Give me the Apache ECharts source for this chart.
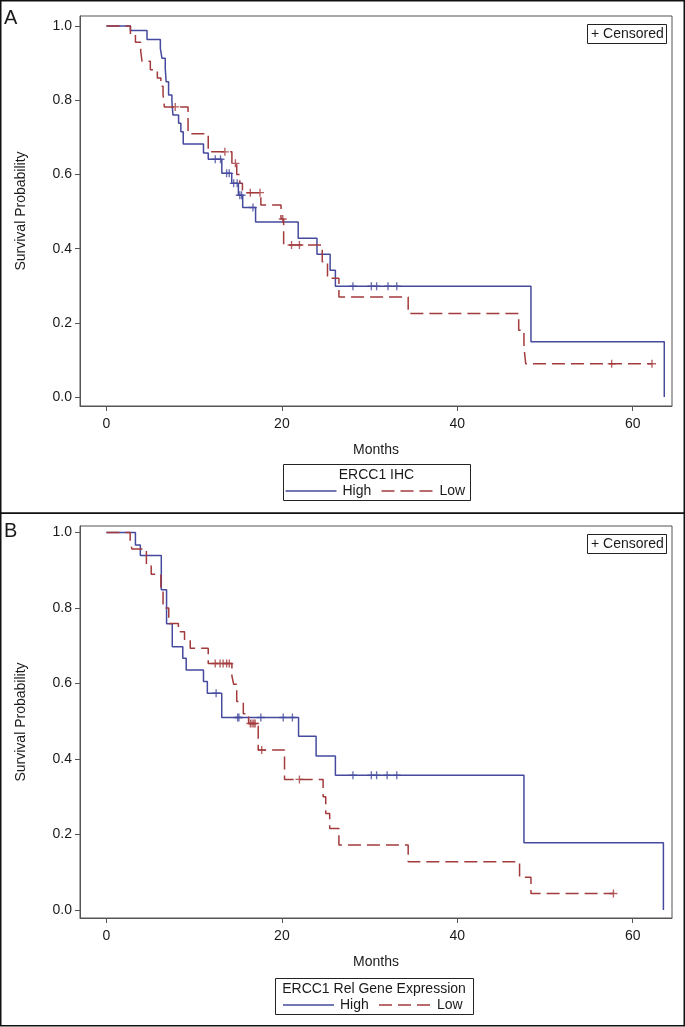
<!DOCTYPE html>
<html>
<head>
<meta charset="utf-8">
<script src="https://cdn.jsdelivr.net/npm/echarts@6/dist/echarts.min.js"></script>
<style>
html,body{margin:0;padding:0;background:#fff;}
#c{width:685px;height:1027px;}
</style>
</head>
<body>
<div id="c"></div>
<script>
// ---------- DATA ----------
const monthTicks = [0, 20, 40, 60];
const survTicks = [0, 0.2, 0.4, 0.6, 0.8, 1.0];
const groupNames = ['High', 'Low'];
const panelLabels = ['A', 'B'];
const legendTitles = ['ERCC1 IHC', 'ERCC1 Rel Gene Expression'];
const censorLabel = '+ Censored';

// Panel A – ERCC1 IHC, High: [month, survival] after each event
const aHighSteps = [
  [0, 1.0], [2.73, 0.988], [4.62, 0.964], [6.14, 0.94], [6.33, 0.913], [6.7, 0.886],
  [6.8, 0.85], [7.08, 0.814], [7.46, 0.796], [7.58, 0.76], [8.22, 0.738], [8.48, 0.715],
  [8.75, 0.682], [11.06, 0.658], [11.6, 0.641], [13.15, 0.603], [14.28, 0.576],
  [15.04, 0.544], [15.53, 0.511], [17.0, 0.472], [21.86, 0.428], [24.0, 0.385],
  [25.5, 0.342], [26.1, 0.299], [48.4, 0.149], [63.6, 0.0]
];
const aHighCensor = [
  [12.4, 0.641], [13.0, 0.641], [13.7, 0.603], [14.0, 0.603], [14.5, 0.576], [14.9, 0.576],
  [15.2, 0.544], [15.4, 0.544], [16.7, 0.511], [28.1, 0.299], [30.2, 0.299], [30.8, 0.299],
  [32.1, 0.299], [33.1, 0.299]
];
// Panel A – Low
const aLowSteps = [
  [0, 1.0], [2.73, 0.978], [3.3, 0.956], [3.9, 0.933], [4.05, 0.905], [5.0, 0.882],
  [5.8, 0.86], [6.2, 0.838], [6.45, 0.815], [6.6, 0.782], [9.3, 0.71], [11.6, 0.661],
  [14.3, 0.63], [14.85, 0.6], [15.2, 0.576], [15.5, 0.551], [17.6, 0.518], [19.9, 0.48],
  [20.2, 0.41], [24.6, 0.365], [25.2, 0.32], [26.5, 0.27], [34.4, 0.225], [47.0, 0.18],
  [47.6, 0.135], [47.8, 0.09], [62.2, 0.09]
];
const aLowCensor = [
  [7.84, 0.782], [13.5, 0.661], [14.7, 0.63], [16.4, 0.551], [17.5, 0.551], [20.1, 0.48],
  [21.1, 0.41], [22.0, 0.41], [57.6, 0.09], [62.2, 0.09]
];
// Panel B – ERCC1 Rel Gene Expression, High
const bHighSteps = [
  [0, 1.0], [3.3, 0.967], [3.86, 0.939], [6.25, 0.848], [6.85, 0.758], [7.5, 0.697],
  [8.7, 0.667], [9.09, 0.636], [11.06, 0.605], [11.5, 0.574], [13.14, 0.51],
  [21.9, 0.46], [23.9, 0.408], [26.1, 0.357], [47.6, 0.178], [63.5, 0.0]
];
const bHighCensor = [
  [12.5, 0.574], [14.95, 0.51], [15.1, 0.51], [17.6, 0.51], [20.15, 0.51], [21.2, 0.51],
  [28.1, 0.357], [30.2, 0.357], [30.8, 0.357], [32.0, 0.357], [33.1, 0.357]
];
// Panel B – Low
const bLowSteps = [
  [0, 1.0], [2.7, 0.978], [2.9, 0.956], [4.55, 0.911], [5.1, 0.889], [6.2, 0.845],
  [6.45, 0.8], [7.1, 0.759], [8.2, 0.737], [8.9, 0.715], [9.55, 0.693], [11.6, 0.653],
  [14.3, 0.62], [14.5, 0.598], [14.85, 0.552], [15.6, 0.52], [16.2, 0.494], [17.3, 0.424],
  [20.3, 0.346], [24.7, 0.30], [25.0, 0.256], [25.45, 0.216], [26.5, 0.172], [34.4, 0.128],
  [47.1, 0.087], [48.4, 0.044], [57.8, 0.044]
];
const bLowCensor = [
  [12.4, 0.653], [12.95, 0.653], [13.3, 0.653], [13.7, 0.653], [14.0, 0.653],
  [16.4, 0.494], [16.6, 0.494], [16.8, 0.494], [16.95, 0.494], [17.7, 0.424],
  [22.0, 0.346], [57.8, 0.044]
];

// ---------- STYLE / LAYOUT ----------
const FONT = '"Liberation Sans", Arial, Helvetica, sans-serif';
const BLUE = '#454a9e';
const RED = '#a33a3c';
const AX = '#555';
const TXT = '#1a1a1a';
const DASH = [13, 6];
const PLUS = 'path://M-0.17,-1L0.17,-1L0.17,-0.17L1,-0.17L1,0.17L0.17,0.17L0.17,1L-0.17,1L-0.17,0.17L-1,0.17L-1,-0.17L-0.17,-0.17Z';

const panels = [
  { top: 16, height: 390, ymin: -0.024, ymax: 1.027, high: aHighSteps, highC: aHighCensor, low: aLowSteps, lowC: aLowCensor,
    y0: 0, legend: { x: 283, y: 464, w: 187, h: 36 } },
  { top: 526, height: 392, ymin: -0.021, ymax: 1.017, high: bHighSteps, highC: bHighCensor, low: bLowSteps, lowC: bLowCensor,
    y0: 513, legend: { x: 275, y: 978, w: 198, h: 36 } }
];

const grids = [], xAxes = [], yAxes = [], series = [], graphics = [];

panels.forEach((p, i) => {
  grids.push({ left: 80, top: p.top, width: 592, height: p.height, show: true, borderColor: AX, borderWidth: 1, backgroundColor: 'transparent' });
  xAxes.push({
    type: 'value', gridIndex: i, min: -3.02, max: 64.48, position: 'bottom',
    name: 'Months', nameLocation: 'middle', nameGap: 37,
    nameTextStyle: { fontFamily: FONT, fontSize: 14, color: TXT },
    axisLine: { show: true, onZero: false, lineStyle: { color: AX, width: 1 } },
    axisTick: { show: true, inside: false, length: 5, lineStyle: { color: AX }, customValues: monthTicks },
    axisLabel: { fontFamily: FONT, fontSize: 14, color: TXT, margin: 11, customValues: monthTicks },
    splitLine: { show: false }
  });
  yAxes.push({
    type: 'value', gridIndex: i, min: p.ymin, max: p.ymax, position: 'left',
    name: 'Survival Probability', nameLocation: 'middle', nameGap: 52, nameRotate: 90,
    nameTextStyle: { fontFamily: FONT, fontSize: 14, color: TXT },
    axisLine: { show: true, onZero: false, lineStyle: { color: AX, width: 1 } },
    axisTick: { show: true, inside: false, length: 5, lineStyle: { color: AX }, customValues: survTicks },
    axisLabel: { fontFamily: FONT, fontSize: 14, color: TXT, margin: 8, customValues: survTicks,
      formatter: v => Number(v).toFixed(1) },
    splitLine: { show: false }
  });
  series.push({
    type: 'line', name: groupNames[0], xAxisIndex: i, yAxisIndex: i, data: p.high, step: 'end',
    symbol: 'none', lineStyle: { color: BLUE, width: 1.5 }, itemStyle: { color: BLUE }, z: 2, silent: true
  });
  series.push({
    type: 'line', name: groupNames[1], xAxisIndex: i, yAxisIndex: i, data: p.low, step: 'end',
    symbol: 'none', lineStyle: { color: RED, width: 1.5, type: DASH }, itemStyle: { color: RED }, z: 3, silent: true
  });
  series.push({
    type: 'scatter', name: groupNames[0] + ' censored', xAxisIndex: i, yAxisIndex: i, data: p.highC,
    symbol: PLUS, symbolSize: 8, itemStyle: { color: BLUE }, z: 4, silent: true
  });
  series.push({
    type: 'scatter', name: groupNames[1] + ' censored', xAxisIndex: i, yAxisIndex: i, data: p.lowC,
    symbol: PLUS, symbolSize: 8, itemStyle: { color: RED }, z: 4, silent: true
  });

  // panel label
  graphics.push({ type: 'text', left: 4, top: p.y0 + 8, style: { text: panelLabels[i], font: '20px ' + FONT, fill: TXT } });
  // censored box
  graphics.push({ type: 'rect', shape: { x: 587.5, y: p.top + 8.5, width: 79, height: 19 }, style: { fill: '#fff', stroke: '#222', lineWidth: 1 }, z: 10 });
  graphics.push({ type: 'text', x: 591, y: p.top + 18.5, style: { text: censorLabel, font: '14px ' + FONT, fill: TXT, textVerticalAlign: 'middle' }, z: 11 });
  // legend
  const L = p.legend;
  const cx = L.x + L.w / 2;
  graphics.push({ type: 'rect', shape: { x: L.x + 0.5, y: L.y + 0.5, width: L.w, height: L.h }, style: { fill: '#fff', stroke: '#222', lineWidth: 1 } });
  graphics.push({ type: 'text', x: cx, y: L.y + 11, style: { text: legendTitles[i], font: '14px ' + FONT, fill: TXT, textAlign: 'center', textVerticalAlign: 'middle' } });
  const iy = L.y + 27;
  graphics.push({ type: 'line', shape: { x1: cx - 91, y1: iy, x2: cx - 40, y2: iy }, style: { stroke: BLUE, lineWidth: 1.5 } });
  graphics.push({ type: 'text', x: cx - 34, y: iy, style: { text: groupNames[0], font: '14px ' + FONT, fill: TXT, textVerticalAlign: 'middle' } });
  graphics.push({ type: 'line', shape: { x1: cx + 5, y1: iy, x2: cx + 57, y2: iy }, style: { stroke: RED, lineWidth: 1.5, lineDash: DASH } });
  graphics.push({ type: 'text', x: cx + 63, y: iy, style: { text: groupNames[1], font: '14px ' + FONT, fill: TXT, textVerticalAlign: 'middle' } });
});

// panel borders
graphics.push({ type: 'rect', shape: { x: 0.75, y: 0.75, width: 683.5, height: 512.5 }, style: { fill: 'none', stroke: '#111', lineWidth: 1.5 } });
graphics.push({ type: 'rect', shape: { x: 0.75, y: 513.25, width: 683.5, height: 512.5 }, style: { fill: 'none', stroke: '#111', lineWidth: 1.5 } });

const chart = echarts.init(document.getElementById('c'), null, { renderer: 'canvas' });
chart.setOption({
  backgroundColor: '#fff',
  animation: false,
  textStyle: { fontFamily: FONT },
  grid: grids,
  xAxis: xAxes,
  yAxis: yAxes,
  series: series,
  graphic: graphics
});
</script>
</body>
</html>
